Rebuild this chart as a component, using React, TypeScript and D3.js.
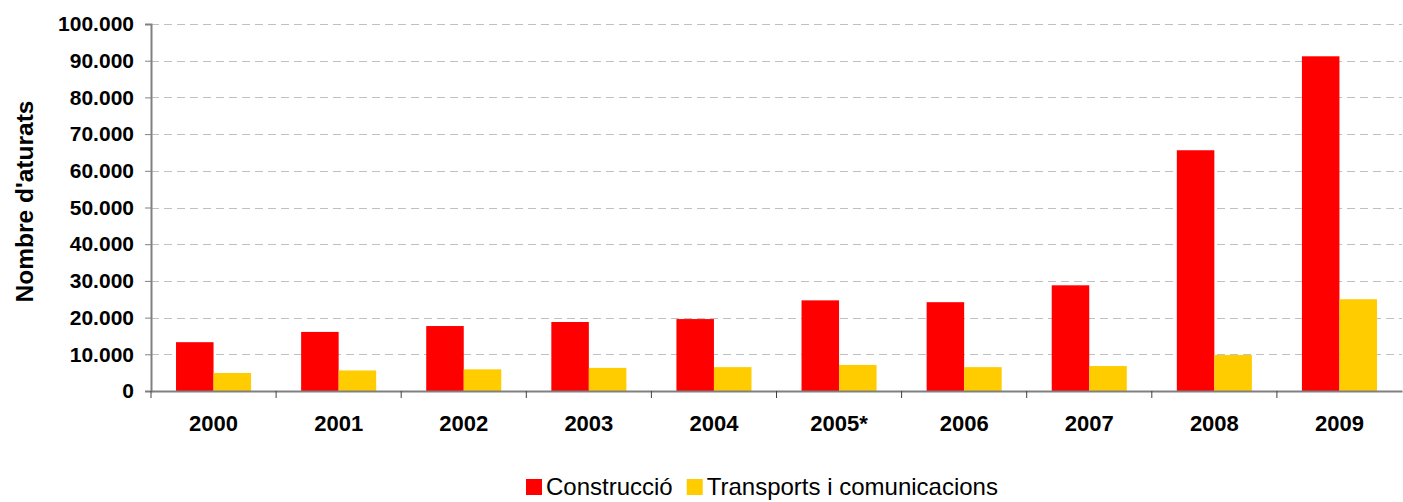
import { useEffect, useRef } from 'react'
import * as d3 from 'd3'

const years = ['2000', '2001', '2002', '2003', '2004', '2005*', '2006', '2007', '2008', '2009']
const seriesNames = ['Construcció', 'Transports i comunicacions']
const construccio = [13300, 16100, 17700, 18800, 19600, 24700, 24200, 28800, 65600, 91200]
const transports = [4900, 5600, 5900, 6300, 6500, 7100, 6500, 6800, 9800, 25000]
const colors = ['#FF0000', '#FFCC00']
const yTicks = [0, 10000, 20000, 30000, 40000, 50000, 60000, 70000, 80000, 90000, 100000]

const fmt = (v: number) => (v === 0 ? '0' : d3.format(',')(v).replace(/,/g, '.'))

export default function App() {
  const svgRef = useRef<SVGSVGElement | null>(null)

  useEffect(() => {
    const W = 1403
    const H = 502
    const margin = { top: 24, right: 1, bottom: 111, left: 151 }
    const iw = W - margin.left - margin.right
    const ih = H - margin.top - margin.bottom
    const font = 'Liberation Sans, Arial, sans-serif'

    const svg = d3.select(svgRef.current)
    svg.selectAll('*').remove()

    const g = svg.append('g').attr('transform', `translate(${margin.left},${margin.top})`)

    const x = d3.scaleBand().domain(years).range([0, iw]).padding(0)
    const xs = d3.scaleBand().domain(seriesNames).range([0, x.bandwidth()]).paddingInner(0).paddingOuter(0.667)
    const y = d3.scaleLinear().domain([0, 100000]).range([ih, 0])

    // dashed grid
    g.append('g')
      .selectAll('line')
      .data(yTicks.filter(t => t > 0))
      .join('line')
      .attr('x1', 0).attr('x2', iw)
      .attr('y1', d => Math.round(y(d)) + 0.5).attr('y2', d => Math.round(y(d)) + 0.5)
      .attr('stroke', '#C0C0C0')
      .attr('stroke-dasharray', '8,5')

    // bars
    const data = years.map((yr, i) => ({ yr, vals: [construccio[i], transports[i]] }))
    const grp = g.append('g').selectAll('g').data(data).join('g')
      .attr('transform', d => `translate(${x(d.yr)},0)`)
    grp.selectAll('rect')
      .data(d => d.vals.map((v, k) => ({ v, k })))
      .join('rect')
      .attr('x', d => xs(seriesNames[d.k])!)
      .attr('width', xs.bandwidth())
      .attr('y', d => y(d.v))
      .attr('height', d => ih - y(d.v))
      .attr('fill', d => colors[d.k])

    // y axis
    const ya = g.append('g')
      .call(d3.axisLeft(y).tickValues(yTicks).tickSize(6).tickPadding(11).tickFormat(d => fmt(+d)))
    ya.select('.domain').attr('stroke', '#808080').attr('stroke-width', 2)
    ya.selectAll('line').attr('stroke', '#808080')
    ya.selectAll('text')
      .attr('fill', '#000')
      .attr('font-family', font)
      .attr('font-weight', 'bold')
      .attr('font-size', '21px')

    // x axis
    const xa = g.append('g').attr('transform', `translate(0,${ih})`)
      .call(d3.axisBottom(x).tickSize(0).tickPadding(24))
    xa.select('.domain').attr('stroke', '#808080').attr('stroke-width', 2)
    xa.selectAll('text')
      .attr('fill', '#000')
      .attr('font-family', font)
      .attr('font-weight', 'bold')
      .attr('font-size', '22px')
    xa.append('g')
      .selectAll('line')
      .data(years)
      .join('line')
      .attr('x1', d => x(d)!).attr('x2', d => x(d)!)
      .attr('y1', 0).attr('y2', 7)
      .attr('stroke', '#404040')

    // y title
    g.append('text')
      .attr('transform', 'rotate(-90)')
      .attr('x', -177.5).attr('y', -118)
      .attr('text-anchor', 'middle')
      .attr('font-family', font)
      .attr('font-weight', 'bold')
      .attr('font-size', '24.5px')
      .attr('fill', '#000')
      .text("Nombre d'aturats")

    // legend
    const leg = svg.append('g').attr('transform', 'translate(526,479)')
    let off = 0
    seriesNames.forEach((s, k) => {
      leg.append('rect').attr('x', off).attr('y', 0).attr('width', 16).attr('height', 16).attr('fill', colors[k])
      const t = leg.append('text')
        .attr('x', off + 20).attr('y', 16)
        .attr('font-family', font)
        .attr('font-size', '24px')
        .attr('fill', '#000')
        .text(s)
      off += 20 + (t.node() as SVGTextElement).getComputedTextLength() + 14
    })
  }, [])

  return (
    <svg
      ref={svgRef}
      width={1403}
      height={502}
      style={{ position: 'absolute', left: 0, top: 0, background: '#fff', display: 'block' }}
    />
  )
}
